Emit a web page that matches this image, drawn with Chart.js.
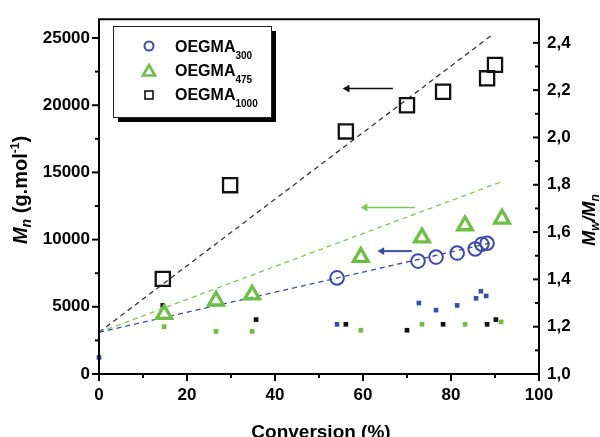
<!DOCTYPE html>
<html><head><meta charset="utf-8">
<script src="https://cdn.jsdelivr.net/npm/chart.js@4.4.0/dist/chart.umd.min.js"></script>
<style>html,body{margin:0;padding:0;background:#fff;}#wrap{width:600px;height:437px;}</style>
</head><body><div id="wrap"><canvas id="c" width="600" height="437"></canvas></div>
<script>
// ---- data ----
const conv300 = [54.1, 72.5, 76.6, 81.4, 85.5, 87.0, 88.2];
const mn300 = [7150, 8400, 8700, 9000, 9300, 9660, 9730];
const conv475 = [14.8, 26.6, 34.8, 59.5, 73.4, 83.2, 91.6];
const mn475 = [4450, 5450, 5900, 8700, 10150, 11050, 11550];
const conv1000 = [14.5, 29.8, 56.1, 70.0, 78.2, 88.2, 90.0];
const mn1000 = [7080, 14050, 18050, 20000, 21000, 22000, 23000];

const pdiConv300 = [0, 54.1, 72.7, 76.6, 81.4, 85.7, 86.8, 88.0];
const pdi300 = [1.07, 1.21, 1.30, 1.27, 1.29, 1.32, 1.35, 1.33];
const pdiConv475 = [14.8, 26.6, 34.8, 59.5, 73.4, 83.2, 91.4];
const pdi475 = [1.20, 1.18, 1.18, 1.185, 1.21, 1.21, 1.22];
const pdiConv1000 = [14.5, 35.7, 56.1, 70.0, 78.2, 88.2, 90.2];
const pdi1000 = [1.29, 1.23, 1.21, 1.185, 1.21, 1.21, 1.23];

const fitX300 = [0, 89.0], fitY300 = [3100, 9750];
const fitX475 = [0, 91.4], fitY475 = [3100, 14300];
const fitX1000 = [0, 89.3], fitY1000 = [3100, 25220];

const arrowX300 = [64.3, 71.1], arrowY300 = [9145, 9145];
const arrowX475 = [60.5, 71.8], arrowY475 = [12390, 12390];
const arrowX1000 = [56.4, 66.8], arrowY1000 = [21240, 21240];

// tick values (major + minor)
const xTicks = [0, 10, 20, 30, 40, 50, 60, 70, 80, 90, 100];
const yTicks = [0, 2500, 5000, 7500, 10000, 12500, 15000, 17500, 20000, 22500, 25000];
const y2Ticks = [1.0, 1.1, 1.2, 1.3, 1.4, 1.5, 1.6, 1.7, 1.8, 1.9, 2.0, 2.1, 2.2, 2.3, 2.4];

const legendNames = ['OEGMA', 'OEGMA', 'OEGMA'];
const legendSubs = ['300', '475', '1000'];
const xTitle = 'Conversion (%)';

// ---- styles ----
const FAM = "'Liberation Sans', Arial, Helvetica, sans-serif";
const BLUE = '#3a4ca8', GREEN = '#6cbf44', GREEN_L = '#7acb52', BLACK = '#111';
const pts = (xs, ys) => xs.map((x, i) => ({x: x, y: ys[i]}));

const markerSet = (label, xs, ys, style, r, color, bw, axis) => ({
  label, data: pts(xs, ys), yAxisID: axis, showLine: false, clip: false,
  pointStyle: style, pointRadius: r, pointHoverRadius: r,
  pointBorderColor: color, pointBackgroundColor: 'rgba(0,0,0,0)', pointBorderWidth: bw, order: 1
});
const smallSet = (label, xs, ys, color) => ({
  label, data: pts(xs, ys), yAxisID: 'y2', showLine: false, clip: false,
  pointStyle: 'rect', pointRadius: 3.3, pointHoverRadius: 3.3,
  pointBorderWidth: 0, pointBackgroundColor: color, pointBorderColor: color, order: 2
});
const fitSet = (label, xs, ys, color) => ({
  label, data: pts(xs, ys), yAxisID: 'y', showLine: true, clip: false,
  borderColor: color, borderWidth: 1.3, borderDash: [5, 4], pointRadius: 0, order: 5
});
const arrowSet = (label, xs, ys, color, w) => ({
  label, data: pts(xs, ys), yAxisID: 'y', showLine: true, clip: false,
  borderColor: color, borderWidth: w, pointStyle: 'triangle', rotation: -90,
  pointRadius: [4.5, 0], pointBorderWidth: 0, pointBackgroundColor: color, order: 4
});

function drawRich(ctx, parts, x, y) {
  parts.forEach(p => { ctx.font = p.f; ctx.fillText(p.t, x, y + (p.dy || 0)); x += ctx.measureText(p.t).width; });
}
function richWidth(ctx, parts) {
  let w = 0; parts.forEach(p => { ctx.font = p.f; w += ctx.measureText(p.t).width; }); return w;
}

const decor = {
  id: 'decor',
  afterDraw(chart) {
    const ctx = chart.ctx, a = chart.chartArea, sx = chart.scales.x, sy = chart.scales.y, sy2 = chart.scales.y2;
    ctx.save();
    ctx.strokeStyle = '#000'; ctx.lineWidth = 2;
    ctx.beginPath(); ctx.rect(a.left, a.top, a.right - a.left, a.bottom - a.top); ctx.stroke();
    sx.ticks.forEach(t => {
      const p = sx.getPixelForValue(t.value), major = Math.round(t.value) % 20 === 0;
      ctx.beginPath(); ctx.moveTo(p, a.bottom); ctx.lineTo(p, a.bottom + (major ? 7 : 4)); ctx.stroke();
    });
    sy.ticks.forEach(t => {
      const p = sy.getPixelForValue(t.value), major = Math.round(t.value) % 5000 === 0;
      ctx.beginPath(); ctx.moveTo(a.left, p); ctx.lineTo(a.left - (major ? 7 : 4), p); ctx.stroke();
    });
    sy2.ticks.forEach(t => {
      const p = sy2.getPixelForValue(t.value), major = Math.round(t.value * 10) % 2 === 0;
      ctx.beginPath(); ctx.moveTo(a.right, p); ctx.lineTo(a.right - (major ? 6 : 4), p); ctx.stroke();
    });

    // legend box
    const bx = 113, by = 26, bw = 158, bh = 91;
    ctx.fillStyle = '#000'; ctx.fillRect(bx + 5, by + 5, bw, bh);
    ctx.fillStyle = '#fff'; ctx.fillRect(bx, by, bw, bh);
    ctx.lineWidth = 1; ctx.strokeStyle = '#222'; ctx.strokeRect(bx + 0.5, by + 0.5, bw, bh);
    // markers
    ctx.strokeStyle = BLUE; ctx.lineWidth = 2;
    ctx.beginPath(); ctx.arc(149, 46, 4.5, 0, Math.PI * 2); ctx.stroke();
    ctx.strokeStyle = GREEN; ctx.lineWidth = 2.6; ctx.lineJoin = 'miter';
    ctx.beginPath(); ctx.moveTo(149, 65); ctx.lineTo(155, 75.5); ctx.lineTo(143, 75.5); ctx.closePath(); ctx.stroke();
    ctx.strokeStyle = BLACK; ctx.lineWidth = 1.6;
    ctx.strokeRect(145, 91, 8, 8);
    // texts
    ctx.fillStyle = '#000'; ctx.textAlign = 'left'; ctx.textBaseline = 'alphabetic';
    const base = [52, 76, 100];
    legendNames.forEach((n, i) => {
      ctx.font = 'bold 16px ' + FAM; ctx.fillText(n, 175, base[i]);
      const w = ctx.measureText(n).width;
      ctx.font = 'bold 10px ' + FAM; ctx.fillText(legendSubs[i], 175 + w, base[i] + 7);
    });

    // axis titles
    const B = 'bold 20px ' + FAM, BI = 'italic bold 20px ' + FAM, SI = 'italic bold 14px ' + FAM, SS = 'bold 12px ' + FAM;
    const left = [{t: 'M', f: BI}, {t: 'n', f: SI, dy: 4}, {t: ' (g.mol', f: B}, {t: '-1', f: SS, dy: -8}, {t: ')', f: B}];
    ctx.save(); ctx.translate(21, 190); ctx.rotate(-Math.PI / 2);
    drawRich(ctx, left, -richWidth(ctx, left) / 2, 6); ctx.restore();
    const R = 'italic bold 18px ' + FAM, RS = 'italic bold 12px ' + FAM;
    const right = [{t: 'M', f: R}, {t: 'w', f: RS, dy: 4}, {t: '/', f: R}, {t: 'M', f: R}, {t: 'n', f: RS, dy: 4}];
    ctx.save(); ctx.translate(589, 220); ctx.rotate(-Math.PI / 2);
    drawRich(ctx, right, -richWidth(ctx, right) / 2, 6); ctx.restore();
    ctx.font = 'bold 19px ' + FAM; ctx.textAlign = 'center';
    ctx.fillText(xTitle, 321, 438);
    ctx.restore();
  }
};

const tickFont = {family: FAM, size: 17, weight: 'bold'};
const setTicks = vals => s => { s.ticks = vals.map(v => ({value: v})); };
new Chart(document.getElementById('c'), {
  type: 'scatter',
  data: {
    datasets: [
      markerSet('OEGMA1000', conv1000, mn1000, 'rect', 10, BLACK, 2.3, 'y'),
      markerSet('OEGMA475', conv475, mn475, 'triangle', 8.5, GREEN, 3.3, 'y'),
      markerSet('OEGMA300', conv300, mn300, 'circle', 6.8, BLUE, 2, 'y'),
      smallSet('PDI300', pdiConv300, pdi300, BLUE),
      smallSet('PDI475', pdiConv475, pdi475, GREEN),
      smallSet('PDI1000', pdiConv1000, pdi1000, BLACK),
      fitSet('fit300', fitX300, fitY300, BLUE),
      fitSet('fit475', fitX475, fitY475, GREEN_L),
      fitSet('fit1000', fitX1000, fitY1000, '#333'),
      arrowSet('arrow300', arrowX300, arrowY300, BLUE, 2),
      arrowSet('arrow475', arrowX475, arrowY475, GREEN_L, 1.5),
      arrowSet('arrow1000', arrowX1000, arrowY1000, BLACK, 1.5)
    ]
  },
  options: {
    responsive: false, animation: false, devicePixelRatio: 1,
    layout: {padding: {top: 16, left: 0, right: 0, bottom: 0}},
    plugins: {legend: {display: false}, tooltip: {enabled: false}},
    scales: {
      x: {type: 'linear', min: 0, max: 100, afterBuildTicks: setTicks(xTicks),
        ticks: {autoSkip: false, maxRotation: 0, padding: 11, font: tickFont, color: '#000',
          callback: v => (Math.round(v) % 20 === 0 ? String(v) : '')},
        grid: {display: false, drawTicks: false}, border: {display: false},
        afterFit: s => { s.height = 63; }},
      y: {type: 'linear', position: 'left', min: 0, max: 26400, afterBuildTicks: setTicks(yTicks),
        ticks: {autoSkip: false, padding: 9, font: tickFont, color: '#000',
          callback: v => (Math.round(v) % 5000 === 0 ? String(v) : '')},
        grid: {display: false, drawTicks: false}, border: {display: false},
        afterFit: s => { s.width = 99; }},
      y2: {type: 'linear', position: 'right', min: 1, max: 2.5, afterBuildTicks: setTicks(y2Ticks),
        ticks: {autoSkip: false, padding: 8, font: tickFont, color: '#000',
          callback: v => { const t = Math.round(v * 10); return (t % 2 === 0) ? (t / 10).toFixed(1).replace('.', ',') : ''; }},
        grid: {display: false, drawTicks: false}, border: {display: false},
        afterFit: s => { s.width = 61; }}
    }
  },
  plugins: [decor]
});
</script></body></html>
